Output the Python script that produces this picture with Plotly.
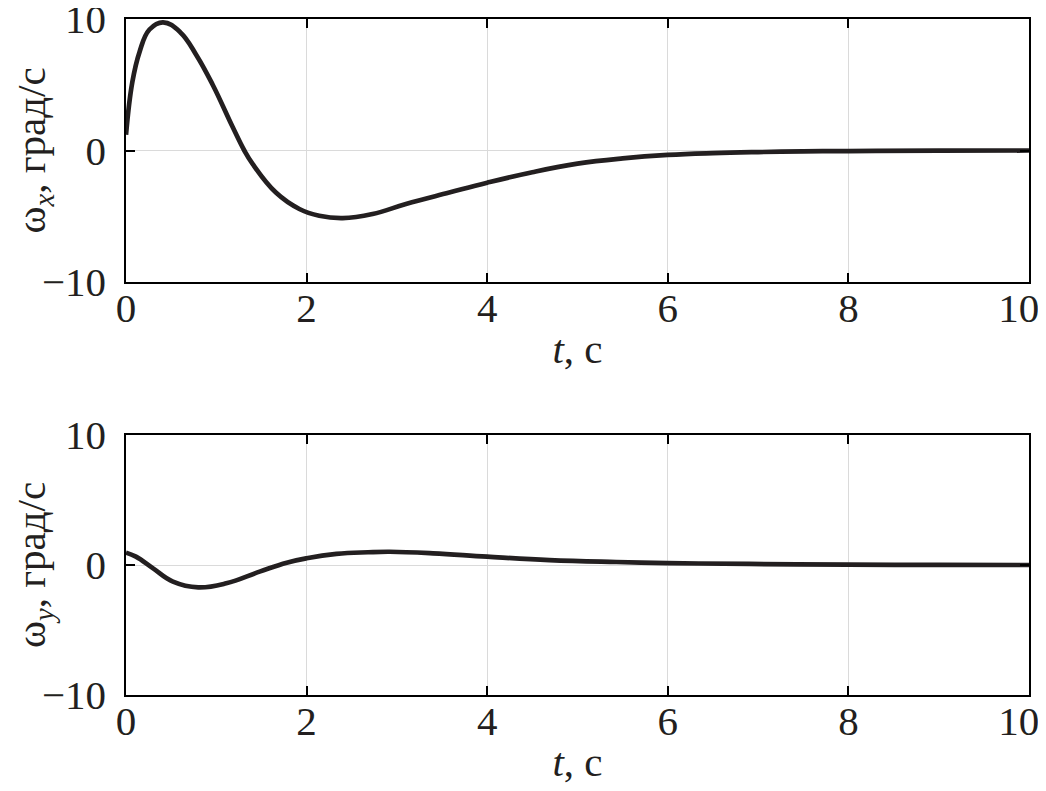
import plotly.graph_objects as go
from plotly.subplots import make_subplots

# --- data ---
t_x = [0, 0.07, 0.15, 0.26, 0.41, 0.6, 0.78, 0.96, 1.18, 1.31, 1.4, 1.66, 1.92, 2.14, 2.4,
       2.73, 3.1, 3.58, 4.0, 4.5, 5.0, 5.5, 6.0, 6.5, 7.0, 7.5, 8.0, 9.0, 10]
omega_x = [1.2, 5.2, 7.5, 9.2, 9.75, 9.0, 7.25, 5.0, 1.8, 0.0, -1.0, -3.2, -4.45, -4.96, -5.14,
           -4.83, -4.07, -3.2, -2.45, -1.65, -1.0, -0.6, -0.34, -0.2, -0.12, -0.07, -0.04, -0.015, 0.0]

t_y = [0, 0.11, 0.3, 0.52, 0.8, 1.11, 1.48, 1.78, 2.0, 2.33, 2.68, 2.92, 3.4, 4.0, 4.69,
       5.43, 6.0, 6.9, 8.0, 9.0, 10]
omega_y = [0.95, 0.64, -0.26, -1.28, -1.72, -1.41, -0.51, 0.18, 0.52, 0.85, 0.98, 1.02, 0.9,
           0.64, 0.38, 0.23, 0.15, 0.08, 0.03, 0.01, 0.0]

x_ticks = [0, 2, 4, 6, 8, 10]
x_tick_text = ["0", "2", "4", "6", "8", "10\u2002"]
y_ticks = [-10, 0, 10]
y_tick_text = ["\u221210", "0", "10"]

x_title = "<i>t</i>, с"
y_titles = ["ω<sub><i>x</i></sub>, град/с", "ω<sub><i>y</i></sub>, град/с"]

LINE = "#231f20"
TXT = "#231f20"
FONT = "Liberation Serif"
FS = 41

fig = make_subplots(rows=2, cols=1, vertical_spacing=0.0)
fig.add_trace(go.Scatter(x=t_x, y=omega_x, mode="lines",
                         line=dict(color=LINE, width=4.7, shape="spline", smoothing=1.2),
                         showlegend=False), row=1, col=1)
fig.add_trace(go.Scatter(x=t_y, y=omega_y, mode="lines",
                         line=dict(color=LINE, width=4.7, shape="spline", smoothing=1.2),
                         showlegend=False), row=2, col=1)

# page has an 8px body margin; figure sized to fit inside the window
W, H = 1038, 783
ML, MT = 118, 11
MR = W - (1029 - 8)
MB = H - (695 - 8)
HP = H - MT - MB
top_dom = [((695 - 8) - (282 - 8)) / HP, 1.0]
bot_dom = [0.0, ((695 - 8) - (435 - 8)) / HP]

common_x = dict(range=[0, 10], tickvals=x_ticks, ticktext=x_tick_text, ticks="inside", ticklen=9,
                tickwidth=1.5, tickcolor="black", showline=True, linecolor="black", linewidth=1.5,
                mirror="ticks", showgrid=True, gridcolor="#dadada", gridwidth=1, zeroline=False,
                automargin=False, ticklabeloverflow="allow",
                tickfont=dict(family=FONT, size=FS, color=TXT),
                title=dict(text=x_title, font=dict(family=FONT, size=FS, color=TXT), standoff=4),
                ticklabelstandoff=-11)
common_y = dict(range=[-10, 10], tickvals=y_ticks, ticktext=y_tick_text, ticks="inside", ticklen=9,
                tickwidth=1.5, tickcolor="black", showline=True, linecolor="black", linewidth=1.5,
                mirror="ticks", showgrid=True, gridcolor="#dadada", gridwidth=1, zeroline=False,
                automargin=False, ticklabeloverflow="allow",
                tickfont=dict(family=FONT, size=FS, color=TXT), ticklabelstandoff=10)

fig.update_xaxes(**common_x)
fig.update_yaxes(**common_y)
fig.update_yaxes(domain=top_dom, row=1, col=1,
                 title=dict(text=y_titles[0], font=dict(family=FONT, size=FS, color=TXT), standoff=8))
fig.update_yaxes(domain=bot_dom, row=2, col=1,
                 title=dict(text=y_titles[1], font=dict(family=FONT, size=FS, color=TXT), standoff=8))

fig.update_layout(width=W, height=H, margin=dict(l=ML, r=MR, t=MT, b=MB, autoexpand=False),
                  paper_bgcolor="white", plot_bgcolor="white", showlegend=False,
                  font=dict(family=FONT, size=FS, color=TXT))

fig.write_html("out.html")
